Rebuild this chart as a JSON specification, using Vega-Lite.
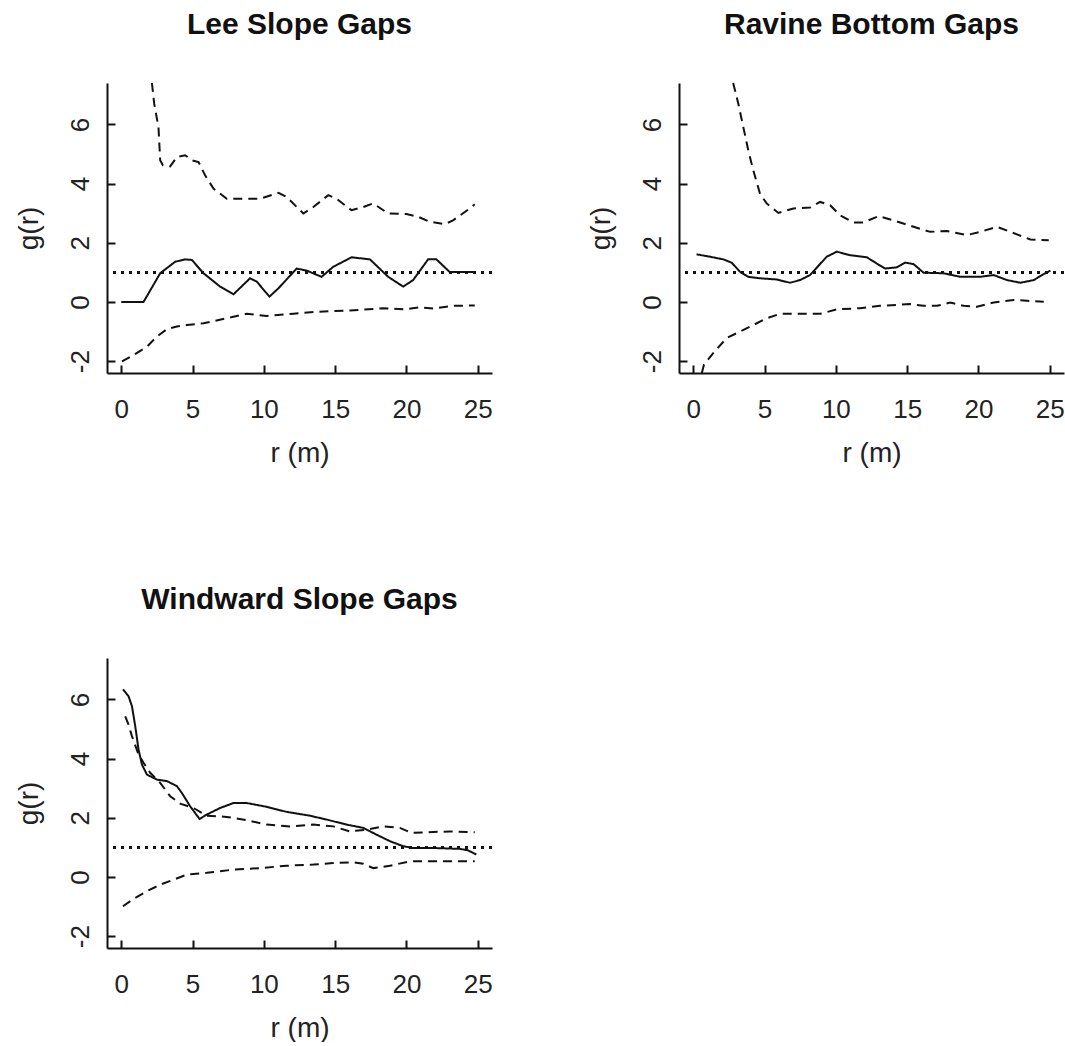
{
  "$schema": "https://vega.github.io/schema/vega-lite/v6.json",
  "background": "white",
  "padding": {"left": 15, "top": 10, "right": 0, "bottom": 0},
  "config": {
    "view": {"stroke": null},
    "font": "Liberation Sans",
    "axis": {
      "grid": false,
      "domainColor": "#111",
      "domainWidth": 2,
      "tickColor": "#111",
      "tickWidth": 2,
      "tickSize": -8,
      "labelFont": "Liberation Sans",
      "labelFontSize": 26,
      "labelColor": "#222",
      "labelExpr": "'' + datum.value",
      "titleFont": "Liberation Sans",
      "titleFontSize": 28,
      "titleFontWeight": "normal",
      "titleColor": "#222"
    },
    "axisX": {"labelPadding": 31, "titlePadding": 17},
    "axisY": {"labelPadding": 22, "labelAngle": -90, "labelAlign": "center", "labelBaseline": "bottom", "titlePadding": 24},
    "title": {"font": "Liberation Sans", "fontSize": 30, "fontWeight": "bold", "color": "#111", "anchor": "middle", "frame": "group", "baseline": "alphabetic", "offset": 43},
    "line": {"strokeWidth": 2, "color": "#111", "clip": true},
    "rule": {"strokeWidth": 2, "color": "#111"}
  },
  "datasets": {
    "lee": [
      {"series": "observed", "r": 0.0, "g": 0.0},
      {"series": "observed", "r": 1.56, "g": 0.0},
      {"series": "observed", "r": 2.73, "g": 0.97},
      {"series": "observed", "r": 3.78, "g": 1.36},
      {"series": "observed", "r": 4.48, "g": 1.44},
      {"series": "observed", "r": 4.95, "g": 1.42},
      {"series": "observed", "r": 5.77, "g": 0.97},
      {"series": "observed", "r": 6.93, "g": 0.52},
      {"series": "observed", "r": 7.87, "g": 0.26},
      {"series": "observed", "r": 9.03, "g": 0.8},
      {"series": "observed", "r": 9.5, "g": 0.69},
      {"series": "observed", "r": 10.39, "g": 0.18},
      {"series": "observed", "r": 11.02, "g": 0.46},
      {"series": "observed", "r": 12.3, "g": 1.13},
      {"series": "observed", "r": 13.0, "g": 1.06},
      {"series": "observed", "r": 14.05, "g": 0.85},
      {"series": "observed", "r": 14.87, "g": 1.19},
      {"series": "observed", "r": 16.15, "g": 1.51},
      {"series": "observed", "r": 17.44, "g": 1.44},
      {"series": "observed", "r": 18.72, "g": 0.85},
      {"series": "observed", "r": 19.77, "g": 0.52},
      {"series": "observed", "r": 20.47, "g": 0.74},
      {"series": "observed", "r": 21.52, "g": 1.44},
      {"series": "observed", "r": 22.1, "g": 1.44},
      {"series": "observed", "r": 23.04, "g": 1.01},
      {"series": "observed", "r": 24.79, "g": 1.01},
      {"series": "upper", "r": 2.15, "g": 7.4},
      {"series": "upper", "r": 2.31, "g": 6.7},
      {"series": "upper", "r": 2.61, "g": 5.91},
      {"series": "upper", "r": 2.73, "g": 4.79},
      {"series": "upper", "r": 2.92, "g": 4.62},
      {"series": "upper", "r": 3.43, "g": 4.58},
      {"series": "upper", "r": 3.9, "g": 4.9},
      {"series": "upper", "r": 4.48, "g": 4.96},
      {"series": "upper", "r": 4.95, "g": 4.79},
      {"series": "upper", "r": 5.42, "g": 4.73},
      {"series": "upper", "r": 5.88, "g": 4.28},
      {"series": "upper", "r": 6.47, "g": 3.83},
      {"series": "upper", "r": 7.4, "g": 3.49},
      {"series": "upper", "r": 9.73, "g": 3.49},
      {"series": "upper", "r": 11.02, "g": 3.69},
      {"series": "upper", "r": 11.6, "g": 3.55},
      {"series": "upper", "r": 12.77, "g": 2.99},
      {"series": "upper", "r": 13.47, "g": 3.21},
      {"series": "upper", "r": 14.52, "g": 3.61},
      {"series": "upper", "r": 15.1, "g": 3.49},
      {"series": "upper", "r": 16.15, "g": 3.1},
      {"series": "upper", "r": 16.97, "g": 3.21},
      {"series": "upper", "r": 17.67, "g": 3.33},
      {"series": "upper", "r": 18.72, "g": 2.99},
      {"series": "upper", "r": 20.0, "g": 2.97},
      {"series": "upper", "r": 20.82, "g": 2.88},
      {"series": "upper", "r": 21.64, "g": 2.71},
      {"series": "upper", "r": 22.69, "g": 2.63},
      {"series": "upper", "r": 23.27, "g": 2.76},
      {"series": "upper", "r": 24.44, "g": 3.16},
      {"series": "upper", "r": 24.79, "g": 3.3},
      {"series": "lower", "r": 0.05, "g": -2.01},
      {"series": "lower", "r": 0.86, "g": -1.79},
      {"series": "lower", "r": 1.8, "g": -1.51},
      {"series": "lower", "r": 2.5, "g": -1.17},
      {"series": "lower", "r": 3.2, "g": -0.92},
      {"series": "lower", "r": 3.9, "g": -0.83},
      {"series": "lower", "r": 4.6, "g": -0.78},
      {"series": "lower", "r": 5.77, "g": -0.72},
      {"series": "lower", "r": 7.4, "g": -0.55},
      {"series": "lower", "r": 8.8, "g": -0.4},
      {"series": "lower", "r": 10.2, "g": -0.47},
      {"series": "lower", "r": 12.07, "g": -0.4},
      {"series": "lower", "r": 13.7, "g": -0.33},
      {"series": "lower", "r": 16.04, "g": -0.29},
      {"series": "lower", "r": 18.37, "g": -0.21},
      {"series": "lower", "r": 19.9, "g": -0.25},
      {"series": "lower", "r": 20.94, "g": -0.18},
      {"series": "lower", "r": 21.87, "g": -0.22},
      {"series": "lower", "r": 23.27, "g": -0.13},
      {"series": "lower", "r": 24.79, "g": -0.12}
    ],
    "ravine": [
      {"series": "observed", "r": 0.23, "g": 1.61},
      {"series": "observed", "r": 1.17, "g": 1.53},
      {"series": "observed", "r": 2.1, "g": 1.44},
      {"series": "observed", "r": 2.69, "g": 1.33},
      {"series": "observed", "r": 3.28, "g": 1.02},
      {"series": "observed", "r": 3.86, "g": 0.85},
      {"series": "observed", "r": 4.68, "g": 0.8},
      {"series": "observed", "r": 5.85, "g": 0.76},
      {"series": "observed", "r": 6.79, "g": 0.65},
      {"series": "observed", "r": 7.49, "g": 0.74},
      {"series": "observed", "r": 8.19, "g": 0.91},
      {"series": "observed", "r": 9.36, "g": 1.53},
      {"series": "observed", "r": 10.07, "g": 1.7},
      {"series": "observed", "r": 11.0, "g": 1.58},
      {"series": "observed", "r": 12.17, "g": 1.51},
      {"series": "observed", "r": 12.87, "g": 1.3},
      {"series": "observed", "r": 13.46, "g": 1.13},
      {"series": "observed", "r": 14.28, "g": 1.17},
      {"series": "observed", "r": 14.86, "g": 1.33},
      {"series": "observed", "r": 15.45, "g": 1.28},
      {"series": "observed", "r": 16.15, "g": 0.99},
      {"series": "observed", "r": 17.56, "g": 0.97},
      {"series": "observed", "r": 18.73, "g": 0.85},
      {"series": "observed", "r": 20.13, "g": 0.85},
      {"series": "observed", "r": 21.07, "g": 0.91},
      {"series": "observed", "r": 22.0, "g": 0.74},
      {"series": "observed", "r": 22.94, "g": 0.65},
      {"series": "observed", "r": 23.88, "g": 0.74},
      {"series": "observed", "r": 24.46, "g": 0.91},
      {"series": "observed", "r": 25.05, "g": 1.06},
      {"series": "upper", "r": 2.8, "g": 7.4},
      {"series": "upper", "r": 3.16, "g": 6.7},
      {"series": "upper", "r": 3.51, "g": 5.91},
      {"series": "upper", "r": 3.86, "g": 5.12},
      {"series": "upper", "r": 4.21, "g": 4.45},
      {"series": "upper", "r": 4.68, "g": 3.66},
      {"series": "upper", "r": 5.15, "g": 3.33},
      {"series": "upper", "r": 5.97, "g": 3.01},
      {"series": "upper", "r": 7.02, "g": 3.16},
      {"series": "upper", "r": 8.19, "g": 3.19},
      {"series": "upper", "r": 8.9, "g": 3.38},
      {"series": "upper", "r": 9.6, "g": 3.27},
      {"series": "upper", "r": 10.3, "g": 2.93},
      {"series": "upper", "r": 11.24, "g": 2.69},
      {"series": "upper", "r": 11.94, "g": 2.69},
      {"series": "upper", "r": 13.0, "g": 2.9},
      {"series": "upper", "r": 14.04, "g": 2.76},
      {"series": "upper", "r": 15.45, "g": 2.54},
      {"series": "upper", "r": 16.62, "g": 2.37},
      {"series": "upper", "r": 17.79, "g": 2.4},
      {"series": "upper", "r": 19.19, "g": 2.26},
      {"series": "upper", "r": 20.13, "g": 2.37},
      {"series": "upper", "r": 21.3, "g": 2.54},
      {"series": "upper", "r": 22.24, "g": 2.37},
      {"series": "upper", "r": 23.64, "g": 2.11},
      {"series": "upper", "r": 24.93, "g": 2.09},
      {"series": "lower", "r": 0.6, "g": -2.4},
      {"series": "lower", "r": 0.75, "g": -2.12},
      {"series": "lower", "r": 1.4, "g": -1.73},
      {"series": "lower", "r": 2.34, "g": -1.22},
      {"series": "lower", "r": 3.28, "g": -1.0},
      {"series": "lower", "r": 4.21, "g": -0.78},
      {"series": "lower", "r": 5.15, "g": -0.55},
      {"series": "lower", "r": 6.09, "g": -0.4},
      {"series": "lower", "r": 7.49, "g": -0.4},
      {"series": "lower", "r": 8.9, "g": -0.4},
      {"series": "lower", "r": 10.07, "g": -0.25},
      {"series": "lower", "r": 11.7, "g": -0.21},
      {"series": "lower", "r": 13.1, "g": -0.13},
      {"series": "lower", "r": 15.2, "g": -0.07},
      {"series": "lower", "r": 16.15, "g": -0.13},
      {"series": "lower", "r": 17.09, "g": -0.13},
      {"series": "lower", "r": 18.02, "g": -0.02},
      {"series": "lower", "r": 18.96, "g": -0.13},
      {"series": "lower", "r": 19.9, "g": -0.16},
      {"series": "lower", "r": 21.07, "g": -0.02},
      {"series": "lower", "r": 22.47, "g": 0.07},
      {"series": "lower", "r": 23.41, "g": 0.04},
      {"series": "lower", "r": 24.58, "g": 0.01}
    ],
    "windward": [
      {"series": "observed", "r": 0.12, "g": 6.34},
      {"series": "observed", "r": 0.51, "g": 6.11},
      {"series": "observed", "r": 0.75, "g": 5.77},
      {"series": "observed", "r": 0.98, "g": 5.1},
      {"series": "observed", "r": 1.21, "g": 4.31},
      {"series": "observed", "r": 1.45, "g": 3.8},
      {"series": "observed", "r": 1.8, "g": 3.46},
      {"series": "observed", "r": 2.5, "g": 3.29},
      {"series": "observed", "r": 3.2, "g": 3.24},
      {"series": "observed", "r": 3.9, "g": 3.07},
      {"series": "observed", "r": 4.25, "g": 2.84},
      {"series": "observed", "r": 4.83, "g": 2.39},
      {"series": "observed", "r": 5.49, "g": 1.96},
      {"series": "observed", "r": 6.0, "g": 2.11},
      {"series": "observed", "r": 6.93, "g": 2.33},
      {"series": "observed", "r": 7.87, "g": 2.5},
      {"series": "observed", "r": 8.8, "g": 2.5},
      {"series": "observed", "r": 10.2, "g": 2.37},
      {"series": "observed", "r": 11.6, "g": 2.2},
      {"series": "observed", "r": 13.24, "g": 2.07},
      {"series": "observed", "r": 14.4, "g": 1.94},
      {"series": "observed", "r": 15.8, "g": 1.77},
      {"series": "observed", "r": 16.97, "g": 1.66},
      {"series": "observed", "r": 17.9, "g": 1.43},
      {"series": "observed", "r": 18.84, "g": 1.21},
      {"series": "observed", "r": 19.77, "g": 1.04},
      {"series": "observed", "r": 20.47, "g": 0.98},
      {"series": "observed", "r": 21.87, "g": 0.98},
      {"series": "observed", "r": 23.74, "g": 0.95},
      {"series": "observed", "r": 24.32, "g": 0.9},
      {"series": "observed", "r": 24.9, "g": 0.76},
      {"series": "upper", "r": 0.28, "g": 5.43},
      {"series": "upper", "r": 0.51, "g": 5.15},
      {"series": "upper", "r": 0.75, "g": 4.76},
      {"series": "upper", "r": 1.21, "g": 4.14},
      {"series": "upper", "r": 1.56, "g": 3.86},
      {"series": "upper", "r": 2.03, "g": 3.52},
      {"series": "upper", "r": 2.73, "g": 3.18},
      {"series": "upper", "r": 3.43, "g": 2.73},
      {"series": "upper", "r": 4.13, "g": 2.48},
      {"series": "upper", "r": 5.07, "g": 2.33},
      {"series": "upper", "r": 6.0, "g": 2.07},
      {"series": "upper", "r": 7.4, "g": 2.03},
      {"series": "upper", "r": 8.8, "g": 1.92},
      {"series": "upper", "r": 10.2, "g": 1.77},
      {"series": "upper", "r": 11.83, "g": 1.71},
      {"series": "upper", "r": 13.47, "g": 1.77},
      {"series": "upper", "r": 14.87, "g": 1.71},
      {"series": "upper", "r": 16.04, "g": 1.54},
      {"series": "upper", "r": 17.2, "g": 1.6},
      {"series": "upper", "r": 18.37, "g": 1.71},
      {"series": "upper", "r": 19.54, "g": 1.66},
      {"series": "upper", "r": 20.35, "g": 1.49},
      {"series": "upper", "r": 21.4, "g": 1.51},
      {"series": "upper", "r": 23.04, "g": 1.54},
      {"series": "upper", "r": 24.79, "g": 1.51},
      {"series": "lower", "r": 0.12, "g": -0.99},
      {"series": "lower", "r": 0.86, "g": -0.74},
      {"series": "lower", "r": 1.8, "g": -0.48},
      {"series": "lower", "r": 2.73, "g": -0.26},
      {"series": "lower", "r": 3.66, "g": -0.09},
      {"series": "lower", "r": 4.6, "g": 0.08},
      {"series": "lower", "r": 6.0, "g": 0.14},
      {"series": "lower", "r": 7.87, "g": 0.25},
      {"series": "lower", "r": 9.73, "g": 0.3},
      {"series": "lower", "r": 11.6, "g": 0.38},
      {"series": "lower", "r": 13.47, "g": 0.42},
      {"series": "lower", "r": 14.87, "g": 0.47},
      {"series": "lower", "r": 16.27, "g": 0.5},
      {"series": "lower", "r": 16.97, "g": 0.45},
      {"series": "lower", "r": 17.67, "g": 0.3},
      {"series": "lower", "r": 18.84, "g": 0.38},
      {"series": "lower", "r": 20.24, "g": 0.53},
      {"series": "lower", "r": 21.87, "g": 0.53},
      {"series": "lower", "r": 24.79, "g": 0.53}
    ]
  },
  "columns": 2,
  "spacing": {"column": 187, "row": 285},
  "bounds": "flush",
  "concat": [
    {
      "title": {"text": "Lee Slope Gaps", "offset": 39},
      "width": 385,
      "height": 290,
      "data": {"name": "lee"},
      "layer": [
        {
          "mark": {"type": "line"},
          "encoding": {
            "x": {"field": "r", "type": "quantitative", "scale": {"domain": [-1, 26], "nice": false, "zero": false}, "axis": {"values": [0, 5, 10, 15, 20, 25], "title": "r (m)"}},
            "y": {"field": "g", "type": "quantitative", "scale": {"domain": [-2.4, 7.4], "nice": false, "zero": false}, "axis": {"values": [-2, 0, 2, 4, 6], "title": "g(r)"}},
            "strokeDash": {"field": "series", "type": "nominal", "scale": {"domain": ["observed", "upper", "lower"], "range": [[1, 0], [9, 6], [9, 6]]}, "legend": null}
          }
        },
        {
          "mark": {"type": "rule", "strokeDash": [3, 5]},
          "encoding": {"y": {"datum": 1}}
        }
      ]
    },
    {
      "title": {"text": "Ravine Bottom Gaps", "offset": 39},
      "width": 385,
      "height": 290,
      "data": {"name": "ravine"},
      "layer": [
        {
          "mark": {"type": "line"},
          "encoding": {
            "x": {"field": "r", "type": "quantitative", "scale": {"domain": [-1, 26], "nice": false, "zero": false}, "axis": {"values": [0, 5, 10, 15, 20, 25], "title": "r (m)"}},
            "y": {"field": "g", "type": "quantitative", "scale": {"domain": [-2.4, 7.4], "nice": false, "zero": false}, "axis": {"values": [-2, 0, 2, 4, 6], "title": "g(r)"}},
            "strokeDash": {"field": "series", "type": "nominal", "scale": {"domain": ["observed", "upper", "lower"], "range": [[1, 0], [9, 6], [9, 6]]}, "legend": null}
          }
        },
        {
          "mark": {"type": "rule", "strokeDash": [3, 5]},
          "encoding": {"y": {"datum": 1}}
        }
      ]
    },
    {
      "title": "Windward Slope Gaps",
      "width": 385,
      "height": 290,
      "data": {"name": "windward"},
      "layer": [
        {
          "mark": {"type": "line"},
          "encoding": {
            "x": {"field": "r", "type": "quantitative", "scale": {"domain": [-1, 26], "nice": false, "zero": false}, "axis": {"values": [0, 5, 10, 15, 20, 25], "title": "r (m)"}},
            "y": {"field": "g", "type": "quantitative", "scale": {"domain": [-2.4, 7.4], "nice": false, "zero": false}, "axis": {"values": [-2, 0, 2, 4, 6], "title": "g(r)"}},
            "strokeDash": {"field": "series", "type": "nominal", "scale": {"domain": ["observed", "upper", "lower"], "range": [[1, 0], [9, 6], [9, 6]]}, "legend": null}
          }
        },
        {
          "mark": {"type": "rule", "strokeDash": [3, 5]},
          "encoding": {"y": {"datum": 1}}
        }
      ]
    }
  ]
}
